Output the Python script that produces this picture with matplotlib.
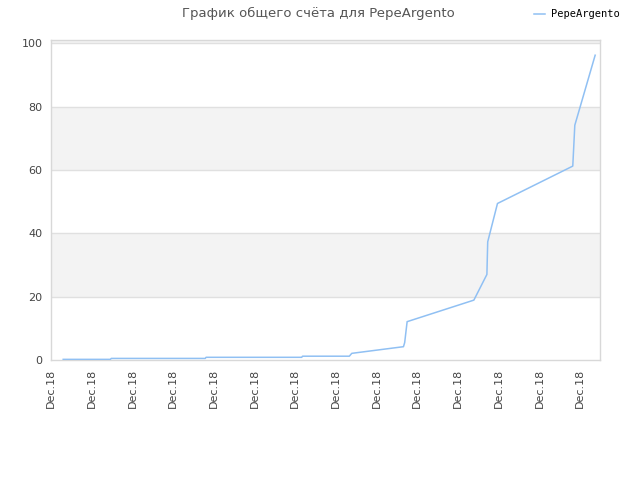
import matplotlib
matplotlib.use("Agg")
import matplotlib.pyplot as plt

# data (x in tick-index units, y score)
x_vals = [0.30, 1.46, 1.48, 3.79, 3.81, 6.16, 6.18, 7.33, 7.39, 8.66, 8.69, 8.75,
          10.39, 10.71, 10.73, 10.97, 12.82, 12.87, 13.37]
y_vals = [0.2, 0.2, 0.5, 0.5, 0.85, 0.85, 1.2, 1.2, 2.1, 4.2, 5.5, 12.1,
          18.9, 27.0, 37.3, 49.4, 61.2, 74.1, 96.2]
tick_labels = ["Dec.18"] * 14
y_ticks = [0, 20, 40, 60, 80, 100]
series_name = "PepeArgento"
title = "График общего счёта для PepeArgento"

fig = plt.figure(figsize=(6.4, 4.8), dpi=100)
ax = fig.add_axes([51/640, 120/480, 549/640, 320/480])

ax.set_xlim(0, 549/40.7)
ax.set_ylim(0, 101)

for lo in (20, 60, 100):
    ax.axhspan(lo, lo + 20, color="#f3f3f3", zorder=0, lw=0)
for yt in y_ticks[1:]:
    ax.axhline(yt, color="#e0e0e0", lw=1, zorder=1)

line, = ax.plot(x_vals, y_vals, color="#90c0f3", lw=1.1, zorder=3, label=series_name)

ax.set_xticks(range(len(tick_labels)))
ax.set_xticklabels(tick_labels, rotation=90, fontsize=8, color="#444444")
ax.set_yticks(y_ticks)
ax.set_yticklabels([str(v) for v in y_ticks], fontsize=8, color="#444444")
ax.tick_params(length=0, pad=6)

for s in ax.spines.values():
    s.set_color("#d8d8d8")
    s.set_linewidth(1)

fig.text(318/640, 1 - 13/480, title, ha="center", va="center", fontsize=9.5, color="#555555")
fig.legend(handles=[line], loc="upper right", bbox_to_anchor=(0.983, 1.0),
           frameon=False, fontsize=7.5, handlelength=1.0, borderaxespad=0.5,
           prop={"family": "DejaVu Sans Mono", "size": 7.5}, handletextpad=0.6)

fig.savefig("out.png", dpi=100)
